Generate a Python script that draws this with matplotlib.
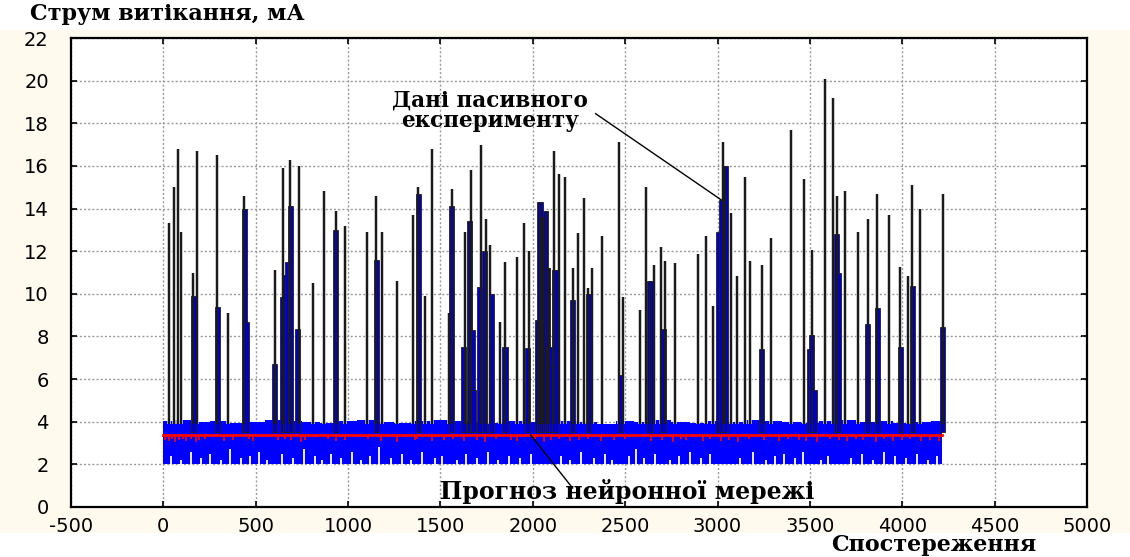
import matplotlib
matplotlib.use("Agg")
import matplotlib.pyplot as plt
from matplotlib.patches import Rectangle

plt.rcParams["axes.unicode_minus"] = False

# ---------------- data ----------------
# tall isolated spikes (observation index, current mA)
spike_obs = [33, 56, 77, 98, 159, 183, 293, 350, 439, 603, 650, 683, 733, 809, 870, 933, 984,
             1100, 1152, 1183, 1266, 1351, 1380, 1414, 1455, 1548, 1560, 1632, 1658, 1665, 1717,
             1744, 1770, 1820, 1849, 1912, 1954, 1977, 2028, 2039, 2057, 2069, 2089, 2113, 2143,
             2174, 2217, 2246, 2279, 2300, 2320, 2373, 2469, 2488, 2578, 2613, 2634, 2654, 2696,
             2716, 2770, 2894, 2938, 2978, 3030, 3041, 3073, 3104, 3149, 3176, 3238, 3292, 3397,
             3469, 3510, 3582, 3626, 3646, 3689, 3760, 3812, 3864, 3929, 3989, 4032, 4054, 4095,
             4218]
spike_val = [13.3, 15.0, 16.8, 12.9, 11.0, 16.7, 16.5, 9.1, 14.6, 11.1, 15.9, 16.3, 16.0, 10.5,
             14.8, 13.9, 13.2, 12.9, 14.6, 12.9, 10.6, 13.7, 15.0, 9.9, 16.8, 9.1, 14.9, 12.9,
             13.4, 15.8, 17.0, 13.5, 12.3, 8.7, 11.5, 11.75, 13.3, 12.0, 8.75, 14.3, 13.6, 13.9,
             11.2, 16.7, 15.6, 15.5, 11.2, 12.85, 14.5, 10.25, 11.2, 12.7, 17.1, 9.85, 9.25, 15.0,
             10.6, 11.35, 12.2, 11.55, 11.45, 11.85, 12.7, 9.45, 17.1, 16.0, 13.8, 10.85, 15.5,
             11.55, 11.35, 12.6, 17.7, 15.4, 12.05, 20.1, 19.2, 14.6, 14.8, 12.9, 13.5, 14.7,
             13.7, 11.25, 10.85, 15.1, 14.0, 14.7]

# filled (blue) parts of the spike clusters
blue_obs = [162, 293, 437, 447, 603, 645, 660, 672, 690, 726, 933, 1152, 1380, 1560, 1623, 1658,
            1672, 1680, 1712, 1738, 1775, 1849, 1970, 2028, 2039, 2048, 2057, 2069, 2080, 2093,
            2100, 2120, 2217, 2300, 2475, 2634, 2705, 3008, 3020, 3041, 3238, 3500, 3510, 3525,
            3646, 3655, 3812, 3864, 3989, 4054, 4218]
blue_val = [9.9, 9.4, 14.0, 8.7, 6.7, 9.85, 10.9, 11.5, 14.1, 8.35, 13.0, 11.6, 14.7, 14.1, 7.5,
            13.4, 8.3, 5.5, 10.3, 12.0, 10.0, 7.5, 7.45, 8.75, 14.3, 13.6, 13.6, 13.9, 11.2, 7.5,
            6.6, 11.1, 9.7, 10.0, 6.2, 10.6, 8.35, 12.9, 14.4, 16.0, 7.4, 7.4, 8.05, 5.5, 12.8,
            11.0, 8.6, 9.35, 7.5, 10.35, 8.45]

# envelope of the dense baseline noise
env_obs = [0, 100, 200, 300, 400, 500, 600, 700, 800, 900, 1000, 1100, 1200, 1300, 1400, 1500,
           1600, 1700, 1800, 1900, 2000, 2100, 2200, 2300, 2400, 2500, 2600, 2700, 2800, 2900,
           3000, 3100, 3200, 3300, 3400, 3500, 3600, 3700, 3800, 3900, 4000, 4100, 4215]
env_high = [4.05, 4.1, 4.0, 4.05, 3.95, 4.0, 4.1, 4.05, 4.0, 3.95, 4.05, 4.1, 4.0, 3.95, 4.05,
            4.1, 4.05, 4.0, 3.95, 4.05, 4.0, 4.1, 4.05, 4.0, 3.9, 4.05, 4.0, 4.1, 4.0, 3.95,
            4.05, 4.0, 4.1, 4.05, 4.0, 3.95, 4.05, 4.1, 4.0, 4.05, 3.95, 4.0, 4.05]
env_low = 2.0

# white gaps at the bottom of the noise band (local minima above 2 mA)
gap_obs = [40, 95, 150, 205, 250, 310, 360, 420, 470, 520, 560, 640, 700, 760, 820, 860, 905,
           960, 1020, 1070, 1120, 1170, 1230, 1290, 1340, 1400, 1470, 1510, 1590, 1640, 1700,
           1760, 1810, 1870, 1930, 1990, 2150, 2200, 2260, 2330, 2390, 2430, 2520, 2560, 2600,
           2660, 2740, 2790, 2850, 2910, 2960, 3120, 3190, 3260, 3310, 3360, 3420, 3460, 3560,
           3600, 3720, 3780, 3840, 3900, 3960, 4020, 4080, 4140, 4190]
gap_val = [2.4, 2.2, 2.6, 2.3, 2.5, 2.2, 2.7, 2.3, 2.4, 2.6, 2.2, 2.5, 2.3, 2.7, 2.4, 2.2, 2.5,
           2.3, 2.6, 2.2, 2.4, 2.8, 2.3, 2.5, 2.2, 2.6, 2.3, 2.4, 2.2, 2.5, 2.3, 2.6, 2.2, 2.4,
           2.3, 2.5, 2.4, 2.2, 2.6, 2.3, 2.5, 2.2, 2.4, 2.7, 2.3, 2.5, 2.2, 2.4, 2.6, 2.3, 2.5,
           2.3, 2.6, 2.2, 2.4, 2.5, 2.3, 2.6, 2.2, 2.4, 2.3, 2.5, 2.2, 2.6, 2.4, 2.3, 2.5, 2.2,
           2.4]

# neural-network forecast: level and its small downward dips
forecast_level = 3.38
dip_obs = [10, 30, 45, 65, 85, 105, 125, 150, 175, 195, 225, 330, 375, 465, 485, 620, 660, 690,
           745, 765, 890, 935, 985, 1110, 1180, 1265, 1360, 1375, 1455, 1520, 1570, 1625, 1700,
           1740, 1800, 1880, 1915, 2010, 2060, 2100, 2140, 2200, 2250, 2300, 2370, 2440, 2500,
           2640, 2700, 2760, 2800, 2830, 2920, 2960, 3020, 3060, 3110, 3170, 3250, 3330, 3380,
           3440, 3480, 3540, 3610, 3660, 3700, 3750, 3790, 3860, 3900, 3950, 4000, 4040, 4100,
           4150, 4200]
dip_val = [3.15, 3.1, 3.2, 3.05, 3.15, 3.2, 3.1, 3.2, 3.05, 3.15, 3.2, 3.1, 3.15, 3.2, 3.1,
           3.15, 3.2, 3.15, 3.05, 3.15, 3.2, 3.1, 3.15, 3.2, 3.1, 3.05, 3.15, 3.2, 3.1, 3.15,
           3.2, 3.1, 3.15, 3.05, 3.2, 3.15, 3.1, 3.2, 3.05, 3.15, 3.2, 3.1, 3.15, 3.2, 3.1,
           3.15, 3.2, 3.1, 3.15, 3.05, 3.2, 3.15, 3.1, 3.2, 3.1, 3.15, 3.05, 3.2, 3.15, 3.1,
           3.2, 3.15, 3.1, 3.05, 3.2, 3.15, 3.1, 3.2, 3.15, 3.05, 3.2, 3.1, 3.15, 3.2, 3.1,
           3.15, 3.1]

x_ticks = [-500, 0, 500, 1000, 1500, 2000, 2500, 3000, 3500, 4000, 4500, 5000]
y_ticks = [0, 2, 4, 6, 8, 10, 12, 14, 16, 18, 20, 22]

title_text = "Струм витікання, мА"
xlabel_text = "Спостереження"
note_data = "Дані пасивного\nексперименту"
note_forecast = "Прогноз нейронної мережі"

# ---------------- drawing ----------------
W, H = 1130, 557
fig = plt.figure(figsize=(W / 100, H / 100), dpi=100, facecolor="white")
fig.patches.append(Rectangle((0, 1 - 533 / H), 1, (533 - 30) / H, transform=fig.transFigure,
                             facecolor="#fff9ee", edgecolor="none", zorder=-10))
ax = fig.add_axes([71 / W, 1 - 507 / H, (1087 - 71) / W, (507 - 38) / H])
ax.set_facecolor("white")

ax.set_xlim(-500, 5000)
ax.set_ylim(0, 22)
ax.set_xticks(x_ticks)
ax.set_yticks(y_ticks)
ax.grid(True, color="#9a9a9a", linestyle=(0, (1.5, 1.5)), linewidth=1.0)
ax.set_axisbelow(True)

# noise band
ax.fill_between(env_obs, env_low, env_high, step="mid", color="#0000ff", linewidth=0, zorder=2)
ax.vlines(gap_obs, env_low - 0.05, gap_val, color="white", linewidth=1.3, zorder=3)

# spike halos
ax.vlines(spike_obs, 3.9, spike_val, color="#c8c8c8", linewidth=2.6, zorder=3.5)
# filled cluster bars
ax.bar(blue_obs, [v - 3.5 for v in blue_val], bottom=3.5, width=28, color="#0000c8",
       edgecolor="#202020", linewidth=0.6, zorder=4)
# spikes
ax.vlines(spike_obs, 3.9, spike_val, color="#1a1a1a", linewidth=1.5, zorder=6)

# forecast
ax.plot([0, 4215], [forecast_level, forecast_level], color="#ff0000", linewidth=2.0, zorder=7)
ax.vlines(dip_obs, dip_val, forecast_level, color="#ff0000", linewidth=1.2, zorder=7)

for s in ax.spines.values():
    s.set_linewidth(1.6)
    s.set_color("black")
ax.tick_params(direction="in", length=4, width=1.2, top=True, right=True,
               labelsize=14, colors="black")
ax.tick_params(axis="x", pad=7)
ax.tick_params(axis="y", pad=16)
for lab in ax.get_xticklabels() + ax.get_yticklabels():
    lab.set_family("DejaVu Sans")

serif = dict(family="DejaVu Serif", fontweight="bold", color="black")
fig.text(30 / W, 1 - 14 / H, title_text, ha="left", va="center", fontsize=16, **serif)
fig.text(934 / W, 1 - 545 / H, xlabel_text, ha="center", va="center", fontsize=16, **serif)

ax.text(1770, 18.6, note_data, ha="center", va="center", fontsize=15.5, linespacing=0.9,
        zorder=8, **serif)
ax.plot([2340, 3021], [18.45, 14.4], color="black", linewidth=1.0, zorder=8)

ax.text(2513, 0.75, note_forecast, ha="center", va="center", fontsize=17, zorder=8, **serif)
ax.plot([1988, 2215], [3.38, 0.89], color="black", linewidth=1.0, zorder=8)

fig.savefig("out.png", dpi=100, facecolor=fig.get_facecolor())
